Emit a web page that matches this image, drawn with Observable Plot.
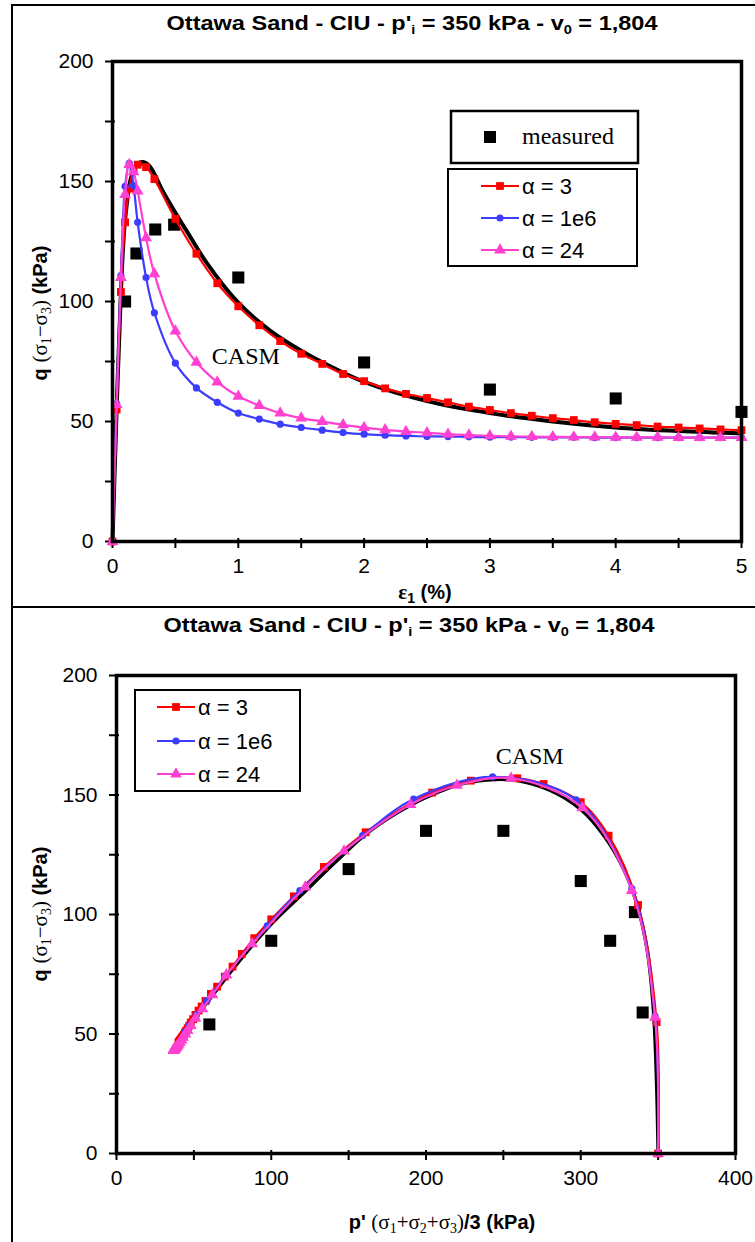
<!DOCTYPE html>
<html>
<head>
<meta charset="utf-8">
<script src="https://cdn.jsdelivr.net/npm/d3@7"></script>
<script src="https://cdn.jsdelivr.net/npm/@observablehq/plot@0.6"></script>
<style>
html,body{margin:0;padding:0;background:#fff;}
#page{position:relative;width:755px;height:1242px;overflow:hidden;background:#fff;}
.rule{position:absolute;background:#000;}
.title{position:absolute;white-space:nowrap;font-family:Arial,"Liberation Sans",Helvetica,sans-serif;font-weight:bold;font-size:21px;line-height:24px;color:#000;transform:translateX(-50%) scaleX(1.12);}
.title sub{font-size:0.62em;vertical-align:-0.3em;line-height:0;}
.chart{position:absolute;left:0;width:755px;}
.chart svg{display:block;}
</style>
</head>
<body>
<div id="page">
  <div class="rule" style="left:11px;top:4px;width:2px;height:1238px"></div>
  <div class="rule" style="left:11px;top:4px;width:744px;height:2px"></div>
  <div class="rule" style="left:11px;top:606px;width:744px;height:2px"></div>
  <div class="title" style="left:412px;top:11px">Ottawa Sand - CIU - p'<sub>i</sub> = 350 kPa - v<sub>0</sub> = 1,804</div>
  <div class="title" style="left:409px;top:613px">Ottawa Sand - CIU - p'<sub>i</sub> = 350 kPa - v<sub>0</sub> = 1,804</div>
  <div id="top" class="chart" style="top:40px"></div>
  <div id="bottom" class="chart" style="top:645px"></div>
</div>
<script>
// ---------- data ----------
// measured points
const measuredStrain = [0.1, 0.19, 0.34, 0.49, 1.0, 2.0, 3.0, 4.0, 5.0];
const measuredQ      = [100, 120, 130, 132, 110, 74.6, 63.3, 59.6, 54];
const measuredPathP  = [60, 100, 150, 200, 250, 300, 319, 335, 340];
const measuredPathQ  = [54, 89, 119, 135, 135, 114, 89, 101, 59];

// model output steps (axial strain, %)
const modelStrain = [0, 0.033, 0.067, 0.1, 0.133, 0.167, 0.2, 0.267, 0.333,
  0.5, 0.667, 0.833, 1.0, 1.167, 1.333, 1.5, 1.667, 1.833, 2.0, 2.167, 2.333, 2.5,
  2.667, 2.833, 3.0, 3.167, 3.333, 3.5, 3.667, 3.833, 4.0, 4.167, 4.333, 4.5, 4.667, 4.833, 5.0];

// alpha = 3
const alpha3Q = [0, 55, 104, 133, 147, 154.6, 157, 156, 151,
  134.4, 119.9, 107.6, 98, 90.1, 83.5, 78.2, 74, 69.8, 66.8, 63.8, 61.5, 59.8,
  58, 56.2, 54.8, 53.5, 52.4, 51.4, 50.6, 49.7, 49, 48.5, 47.9, 47.5, 47.1, 46.7, 46.4];
const alpha3P = [350, 349, 337, 318, 300, 276, 259, 229, 204,
  161, 134, 114.6, 100, 89, 81, 75, 70, 65, 61, 57.5, 55, 53,
  51, 49.5, 48, 47, 46, 45, 44.2, 43.5, 42.8, 42.2, 41.7, 41.2, 40.8, 40.4, 40];

// alpha = 1e6
const alpha1e6Q = [0, 57.5, 110.8, 148, 157.6, 148.3, 133, 110, 95.3,
  74.3, 64, 58, 53.5, 51, 48.9, 47.5, 46.4, 45.4, 44.7, 44.3, 44, 43.8,
  43.7, 43.6, 43.5, 43.5, 43.4, 43.4, 43.4, 43.3, 43.3, 43.3, 43.3, 43.3, 43.3, 43.3, 43.3];
const alpha1e6P = [350, 348, 333, 297, 243, 192, 159, 118.5, 97.4,
  70.4, 58.6, 51.5, 47, 44.5, 43, 42, 41, 40.3, 39.7, 39.3, 39, 38.8,
  38.6, 38.5, 38.4, 38.4, 38.3, 38.3, 38.3, 38.2, 38.2, 38.2, 38.2, 38.2, 38.2, 38.2, 38.2];

// alpha = 24
const alpha24Q = [0, 57, 110, 144.6, 157, 154, 146, 126.5, 111.5,
  87.7, 74.7, 66.4, 60.5, 56.6, 53.5, 51.4, 50, 48.6, 47.5, 46.5, 45.8, 45.3,
  44.7, 44.3, 44, 43.8, 43.7, 43.6, 43.5, 43.5, 43.4, 43.4, 43.4, 43.3, 43.3, 43.3, 43.3];
const alpha24P = [350, 348, 333, 301, 255, 220, 190, 147, 122,
  87.7, 71, 62, 55.5, 51, 48, 46, 44.5, 43, 42, 41, 40.2, 39.6,
  39, 38.5, 38.1, 37.8, 37.6, 37.4, 37.3, 37.2, 37.1, 37, 37, 37, 37, 37, 37];

// CASM reference curve
const casmStrain = [0, 0.033, 0.067, 0.1, 0.15, 0.2, 0.25, 0.3, 0.4, 0.5, 0.6, 0.75,
  1.0, 1.25, 1.5, 1.75, 2.0, 2.5, 3.0, 3.5, 4.0, 4.5, 5.0];
const casmQ = [0, 55, 104, 134, 152, 157.5, 158, 156, 146, 137, 128.5, 116,
  99.5, 88, 79.5, 72.5, 66.5, 58.5, 53.5, 50, 47.5, 46, 45];
const casmPathP = [350, 349, 347, 343, 336, 327, 315, 300, 280, 260, 245, 225, 200,
  180, 160, 140, 120, 100, 80, 60, 45, 37];
const casmPathQ = [0, 30, 60, 85, 105, 120, 133, 144, 152, 156, 156.5, 155, 149,
  142, 133, 121, 108.5, 96, 81, 64.5, 52, 44];

// axis ticks
const qLabelTicks = [0, 50, 100, 150, 200];
const qTicks = [0, 25, 50, 75, 100, 125, 150, 175, 200];
const strainLabelTicks = [0, 1, 2, 3, 4, 5];
const strainTicks = [0, 0.5, 1, 1.5, 2, 2.5, 3, 3.5, 4, 4.5, 5];
const pLabelTicks = [0, 100, 200, 300, 400];
const pTicks = [0, 50, 100, 150, 200, 250, 300, 350, 400];

const seriesNames = ["α = 3", "α = 1e6", "α = 24"];

// ---------- build ----------
const SANS = "Arial, 'Liberation Sans', Helvetica, sans-serif";
const SERIF = "'Times New Roman', 'Liberation Serif', Times, serif";
const RED = "#ff0000", BLUE = "#3c3cff", PINK = "#ff40d0";

const modelRows = (qs, ps) => modelStrain.map((e, i) => ({strain: e, q: qs[i], p: ps[i]}));
const red = modelRows(alpha3Q, alpha3P);
const blue = modelRows(alpha1e6Q, alpha1e6P);
const pink = modelRows(alpha24Q, alpha24P);
const measuredTop = measuredStrain.map((e, i) => ({strain: e, q: measuredQ[i]}));
const measuredBottom = measuredPathP.map((p, i) => ({p, q: measuredPathQ[i]}));
const casmTop = casmStrain.map((e, i) => ({strain: e, q: casmQ[i]}));
const casmBottom = casmPathP.map((p, i) => ({p, q: casmPathQ[i]}));

const styles = [
  {color: RED, symbol: "square", r: 4.4},
  {color: BLUE, symbol: "circle", r: 3.6},
  {color: PINK, symbol: "triangle", r: 4.4}
];

function modelMarks(data, x, st) {
  return [
    Plot.line(data, {x, y: "q", stroke: st.color, strokeWidth: 2.2, curve: "catmull-rom"}),
    Plot.dot(data, {x, y: "q", fill: st.color, symbol: st.symbol, r: st.r, stroke: "none"})
  ];
}

// tick labels plus short tick marks that cross the frame
function axisMarks(xTicks, xLabels, yTicks, yLabels) {
  return [
    Plot.axisX({ticks: xTicks, tickSize: 10, dy: -3, text: null, stroke: "#000", strokeWidth: 2, label: null}),
    Plot.axisY({ticks: yTicks, tickSize: 10, dx: 3, text: null, stroke: "#000", strokeWidth: 2, label: null}),
    Plot.axisY({ticks: yLabels, tickSize: 0, tickPadding: 19, fontSize: 21, tickFormat: d => String(d), label: null}),
    Plot.axisX({ticks: xLabels, tickSize: 0, tickPadding: 17, fontSize: 21, tickFormat: d => String(d), label: null})
  ];
}

function richText(svg, {x, y, rotate = 0, anchor = "middle", parts}) {
  const t = d3.select(svg).append("text")
    .attr("transform", `translate(${x},${y}) rotate(${rotate})`)
    .attr("text-anchor", anchor)
    .attr("fill", "#000")
    .style("white-space", "pre");
  let shift = 0;
  for (const p of parts) {
    const target = p.sub ? 4 : 0;
    t.append("tspan").text(p.text)
      .attr("font-family", p.serif ? SERIF : SANS)
      .attr("font-weight", p.bold ? "bold" : "normal")
      .attr("font-size", p.size)
      .attr("dy", target - shift);
    shift = target;
  }
}

function symbolPath(type, r) {
  const t = {square: d3.symbolSquare, circle: d3.symbolCircle, triangle: d3.symbolTriangle}[type];
  return d3.symbol().type(t).size(r * r * Math.PI)();
}

function seriesLegend(svg, {x, y, w, h, lineX1, lineX2, rowY, textX, fontSize}) {
  const g = d3.select(svg).append("g").attr("text-anchor", "start");
  g.append("rect").attr("x", x).attr("y", y).attr("width", w).attr("height", h)
    .attr("fill", "#fff").attr("stroke", "#000").attr("stroke-width", 2);
  styles.forEach((st, i) => {
    const yy = rowY[i];
    g.append("line").attr("x1", lineX1).attr("x2", lineX2).attr("y1", yy).attr("y2", yy)
      .attr("stroke", st.color).attr("stroke-width", 2.2);
    g.append("path").attr("d", symbolPath(st.symbol, st.r))
      .attr("transform", `translate(${(lineX1 + lineX2) / 2},${yy})`).attr("fill", st.color);
    g.append("text").attr("x", textX).attr("y", yy + 7.5).attr("font-family", SANS)
      .attr("text-anchor", "start")
      .attr("font-size", fontSize).attr("fill", "#000").style("white-space", "pre").text(seriesNames[i]);
  });
}

const yLabelParts = [
  {text: "q ", bold: true, size: 20},
  {text: "(σ", serif: true, size: 21},
  {text: "1", serif: true, sub: true, size: 14},
  {text: "−σ", serif: true, size: 21},
  {text: "3", serif: true, sub: true, size: 14},
  {text: ")", serif: true, size: 21},
  {text: " (kPa)", bold: true, size: 20}
];

// ---------- top chart: q vs strain ----------
const topSvg = Plot.plot({
  width: 755, height: 566,
  marginLeft: 112, marginRight: 14, marginTop: 21, marginBottom: 65,
  x: {domain: [0, 5], label: null},
  y: {domain: [0, 200], label: null},
  style: {fontFamily: SANS, color: "#000", background: "transparent", overflow: "visible"},
  marks: [
    ...axisMarks(strainTicks, strainLabelTicks, qTicks, qLabelTicks),
    Plot.dot(measuredTop, {x: "strain", y: "q", symbol: "square", r: 6.8, fill: "#000"}),
    Plot.line(casmTop, {x: "strain", y: "q", stroke: "#000", strokeWidth: 4, curve: "catmull-rom"}),
    ...modelMarks(red, "strain", styles[0]),
    ...modelMarks(blue, "strain", styles[1]),
    ...modelMarks(pink, "strain", styles[2]),
    Plot.text([{x: 1.06, y: 77, t: "CASM"}], {x: "x", y: "y", text: "t", fontFamily: SERIF, fontSize: 24, fill: "#000"}),
    Plot.frame({strokeWidth: 3.5})
  ]
});
document.getElementById("top").appendChild(topSvg);

// top legends (svg pixel coordinates; svg starts 40px below page top)
{
  const g = d3.select(topSvg).append("g").attr("text-anchor", "start");
  g.append("rect").attr("x", 451).attr("y", 71).attr("width", 187).attr("height", 52)
    .attr("fill", "#fff").attr("stroke", "#000").attr("stroke-width", 2.5);
  g.append("path").attr("d", symbolPath("square", 6.8)).attr("transform", "translate(490,97)").attr("fill", "#000");
  g.append("text").attr("x", 522).attr("y", 104).attr("font-family", SERIF).attr("font-size", 24)
    .attr("text-anchor", "start").attr("fill", "#000").text("measured");
  seriesLegend(topSvg, {x: 448, y: 129, w: 189, h: 97, lineX1: 481, lineX2: 519,
    rowY: [146, 178, 210], textX: 522, fontSize: 22});
}
richText(topSvg, {x: 425, y: 559, parts: [
  {text: "ε", serif: true, bold: true, size: 21},
  {text: "1", bold: true, sub: true, size: 14},
  {text: " (%)", bold: true, size: 20}
]});
richText(topSvg, {x: 47, y: 273, rotate: -90, parts: yLabelParts});

// ---------- bottom chart: q vs p' ----------
const bottomSvg = Plot.plot({
  width: 755, height: 597,
  marginLeft: 116, marginRight: 20, marginTop: 30, marginBottom: 89,
  x: {domain: [0, 400], label: null},
  y: {domain: [0, 200], label: null},
  style: {fontFamily: SANS, color: "#000", background: "transparent", overflow: "visible"},
  marks: [
    ...axisMarks(pTicks, pLabelTicks, qTicks, qLabelTicks),
    Plot.dot(measuredBottom, {x: "p", y: "q", symbol: "square", r: 6.8, fill: "#000"}),
    Plot.line(casmBottom, {x: "p", y: "q", stroke: "#000", strokeWidth: 3.5, curve: "catmull-rom"}),
    ...modelMarks(red, "p", styles[0]),
    ...modelMarks(blue, "p", styles[1]),
    ...modelMarks(pink, "p", styles[2]),
    Plot.text([{x: 267, y: 166, t: "CASM"}], {x: "x", y: "y", text: "t", fontFamily: SERIF, fontSize: 24, fill: "#000"}),
    Plot.frame({strokeWidth: 3.5})
  ]
});
document.getElementById("bottom").appendChild(bottomSvg);

seriesLegend(bottomSvg, {x: 135, y: 45, w: 165, h: 101, lineX1: 157, lineX2: 195,
  rowY: [62, 96, 129], textX: 198, fontSize: 22});
richText(bottomSvg, {x: 442, y: 584, parts: [
  {text: "p' ", bold: true, size: 20},
  {text: "(σ", serif: true, size: 21},
  {text: "1", serif: true, sub: true, size: 14},
  {text: "+σ", serif: true, size: 21},
  {text: "2", serif: true, sub: true, size: 14},
  {text: "+σ", serif: true, size: 21},
  {text: "3", serif: true, sub: true, size: 14},
  {text: ")", serif: true, size: 21},
  {text: "/3 (kPa)", bold: true, size: 20}
]});
richText(bottomSvg, {x: 47, y: 269, rotate: -90, parts: yLabelParts});
</script>
</body>
</html>
